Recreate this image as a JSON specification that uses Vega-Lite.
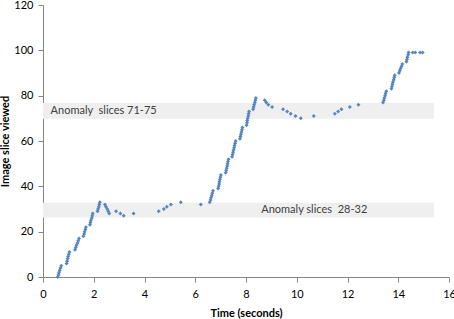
{
  "$schema": "https://vega.github.io/schema/vega-lite/v6.json",
  "width": 406,
  "height": 272,
  "autosize": {"type": "none"},
  "padding": {"left": 43, "top": 5, "right": 5, "bottom": 42},
  "background": "white",
  "config": {
    "view": {"stroke": null},
    "font": "Lato",
    "axis": {
      "grid": false,
      "domainColor": "#868686",
      "tickColor": "#868686",
      "tickSize": 5,
      "labelFlush": false,
      "labelFont": "Lato",
      "labelFontSize": 11,
      "labelColor": "#000000",
      "titleFont": "Lato",
      "titleFontSize": 11,
      "titleFontWeight": "bold",
      "titleColor": "#000000"
    }
  },
  "datasets": {
    "bands": [
      {"x0": 0, "x1": 15.4, "y0": 69.8, "y1": 76.8, "label": "Anomaly\u00a0 slices 71-75", "lx": 0.3, "ly": 73.3},
      {"x0": 0, "x1": 15.4, "y0": 26.2, "y1": 32.8, "label": "Anomaly slices\u00a0 28-32", "lx": 8.6, "ly": 29.5}
    ],
    "points": [
      {"t": 0.58, "slice": 0}, {"t": 0.61, "slice": 1}, {"t": 0.63, "slice": 2}, {"t": 0.66, "slice": 3}, {"t": 0.69, "slice": 4}, {"t": 0.72, "slice": 5},
      {"t": 0.93, "slice": 6}, {"t": 0.95, "slice": 7}, {"t": 0.97, "slice": 8}, {"t": 0.99, "slice": 9}, {"t": 1.02, "slice": 10}, {"t": 1.04, "slice": 11},
      {"t": 1.26, "slice": 12}, {"t": 1.29, "slice": 13}, {"t": 1.32, "slice": 14}, {"t": 1.36, "slice": 15}, {"t": 1.39, "slice": 16}, {"t": 1.42, "slice": 17},
      {"t": 1.59, "slice": 18}, {"t": 1.62, "slice": 19}, {"t": 1.64, "slice": 20}, {"t": 1.67, "slice": 21}, {"t": 1.69, "slice": 22},
      {"t": 1.85, "slice": 23}, {"t": 1.87, "slice": 24}, {"t": 1.89, "slice": 25}, {"t": 1.92, "slice": 26}, {"t": 1.94, "slice": 27}, {"t": 1.96, "slice": 28},
      {"t": 2.15, "slice": 29}, {"t": 2.17, "slice": 30}, {"t": 2.2, "slice": 31}, {"t": 2.22, "slice": 32}, {"t": 2.24, "slice": 33},
      {"t": 2.44, "slice": 32}, {"t": 2.48, "slice": 31}, {"t": 2.53, "slice": 30}, {"t": 2.57, "slice": 29}, {"t": 2.61, "slice": 28},
      {"t": 2.88, "slice": 29}, {"t": 3.05, "slice": 28}, {"t": 3.18, "slice": 27}, {"t": 3.57, "slice": 28},
      {"t": 4.56, "slice": 29}, {"t": 4.76, "slice": 30}, {"t": 4.88, "slice": 31}, {"t": 5.04, "slice": 32}, {"t": 5.43, "slice": 33}, {"t": 6.22, "slice": 32},
      {"t": 6.57, "slice": 33}, {"t": 6.6, "slice": 34}, {"t": 6.62, "slice": 35}, {"t": 6.65, "slice": 36}, {"t": 6.67, "slice": 37}, {"t": 6.7, "slice": 38},
      {"t": 6.9, "slice": 39}, {"t": 6.92, "slice": 40}, {"t": 6.94, "slice": 41}, {"t": 6.95, "slice": 42}, {"t": 6.97, "slice": 43}, {"t": 6.99, "slice": 44}, {"t": 7.01, "slice": 45},
      {"t": 7.2, "slice": 46}, {"t": 7.22, "slice": 47}, {"t": 7.24, "slice": 48}, {"t": 7.26, "slice": 49}, {"t": 7.27, "slice": 50}, {"t": 7.29, "slice": 51}, {"t": 7.31, "slice": 52},
      {"t": 7.45, "slice": 53}, {"t": 7.47, "slice": 54}, {"t": 7.49, "slice": 55}, {"t": 7.51, "slice": 56}, {"t": 7.53, "slice": 57}, {"t": 7.55, "slice": 58}, {"t": 7.57, "slice": 59}, {"t": 7.59, "slice": 60},
      {"t": 7.76, "slice": 61}, {"t": 7.78, "slice": 62}, {"t": 7.8, "slice": 63}, {"t": 7.82, "slice": 64}, {"t": 7.84, "slice": 65}, {"t": 7.86, "slice": 66},
      {"t": 8.02, "slice": 67}, {"t": 8.04, "slice": 68}, {"t": 8.05, "slice": 69}, {"t": 8.07, "slice": 70}, {"t": 8.09, "slice": 71}, {"t": 8.1, "slice": 72}, {"t": 8.12, "slice": 73},
      {"t": 8.28, "slice": 74}, {"t": 8.3, "slice": 75}, {"t": 8.32, "slice": 76}, {"t": 8.35, "slice": 77}, {"t": 8.37, "slice": 78}, {"t": 8.39, "slice": 79},
      {"t": 8.74, "slice": 78}, {"t": 8.8, "slice": 77}, {"t": 8.88, "slice": 76}, {"t": 9.03, "slice": 75},
      {"t": 9.46, "slice": 74}, {"t": 9.62, "slice": 73}, {"t": 9.76, "slice": 72}, {"t": 9.95, "slice": 71}, {"t": 10.16, "slice": 70}, {"t": 10.67, "slice": 71},
      {"t": 11.5, "slice": 72}, {"t": 11.63, "slice": 73}, {"t": 11.76, "slice": 74}, {"t": 12.09, "slice": 75}, {"t": 12.43, "slice": 76},
      {"t": 13.4, "slice": 77}, {"t": 13.43, "slice": 78}, {"t": 13.45, "slice": 79}, {"t": 13.48, "slice": 80}, {"t": 13.5, "slice": 81}, {"t": 13.53, "slice": 82},
      {"t": 13.73, "slice": 83}, {"t": 13.75, "slice": 84}, {"t": 13.77, "slice": 85}, {"t": 13.79, "slice": 86}, {"t": 13.82, "slice": 87}, {"t": 13.84, "slice": 88}, {"t": 13.86, "slice": 89},
      {"t": 14.03, "slice": 90}, {"t": 14.06, "slice": 91}, {"t": 14.09, "slice": 92}, {"t": 14.13, "slice": 93}, {"t": 14.16, "slice": 94},
      {"t": 14.32, "slice": 95}, {"t": 14.34, "slice": 96}, {"t": 14.36, "slice": 97}, {"t": 14.39, "slice": 98}, {"t": 14.41, "slice": 99},
      {"t": 14.57, "slice": 99}, {"t": 14.67, "slice": 99}, {"t": 14.86, "slice": 99}, {"t": 14.96, "slice": 99}
    ]
  },
  "layer": [
    {
      "data": {"name": "bands"},
      "mark": {"type": "rect", "color": "#EFEFEF"},
      "encoding": {
        "x": {"field": "x0", "type": "quantitative", "scale": {"domain": [0, 16]}},
        "x2": {"field": "x1"},
        "y": {"field": "y0", "type": "quantitative", "scale": {"domain": [0, 120]}},
        "y2": {"field": "y1"}
      }
    },
    {
      "data": {"name": "bands"},
      "mark": {"type": "text", "align": "left", "baseline": "middle", "font": "Lato", "fontSize": 11, "color": "#404040"},
      "encoding": {
        "x": {"field": "lx", "type": "quantitative"},
        "y": {"field": "ly", "type": "quantitative"},
        "text": {"field": "label"}
      }
    },
    {
      "data": {"name": "points"},
      "mark": {"type": "point", "shape": "diamond", "filled": true, "size": 16, "color": "#4F81BD", "opacity": 0.95},
      "encoding": {
        "x": {
          "field": "t", "type": "quantitative",
          "scale": {"domain": [0, 16], "nice": false},
          "axis": {"title": "Time (seconds)", "values": [0, 2, 4, 6, 8, 10, 12, 14, 16], "labelPadding": 6, "titlePadding": 8}
        },
        "y": {
          "field": "slice", "type": "quantitative",
          "scale": {"domain": [0, 120], "nice": false},
          "axis": {"title": "Image slice viewed", "values": [0, 20, 40, 60, 80, 100, 120], "labelPadding": 5, "titlePadding": 3}
        }
      }
    }
  ]
}
